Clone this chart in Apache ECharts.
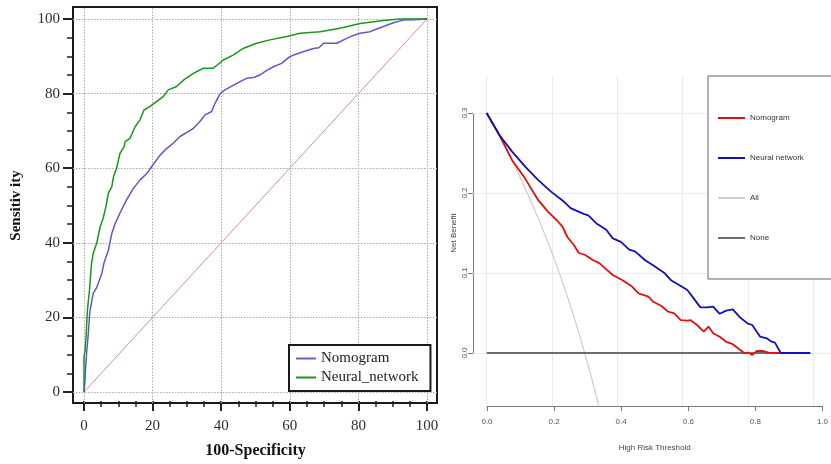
<!DOCTYPE html>
<html>
<head>
<meta charset="utf-8">
<script src="https://cdn.jsdelivr.net/npm/echarts@6/dist/echarts.min.js"></script>
<style>
html,body{margin:0;padding:0;background:#fff;}
#chart{width:831px;height:464px;}
</style>
</head>
<body>
<div id="chart"></div>
<script>
// ---------- ROC data (100-Specificity, Sensitivity) ----------
const rocTicks = [0, 20, 40, 60, 80, 100];
const nomogramRoc = [
  [0,0],[0.3,3],[0.5,7],[0.8,11],[1.2,15],[1.7,21.5],[2.2,24],[2.7,26.5],[3.7,28],[4.5,30],[5.2,31.8],[5.8,34.5],
  [7.1,38],[8.1,42.5],[9,45],[10.5,48],[12.4,51.5],[14.4,54.6],[16.3,56.8],[18.3,58.6],[19.7,60.4],
  [22.2,63.5],[24,65.2],[26,66.7],[28,68.5],[30,69.6],[31.9,70.7],[33.8,72.5],[35.3,74.3],[37.2,75.2],[38.2,77.4],
  [39.7,80],[41.1,81],[43.5,82.2],[45.5,83.2],[47.4,84.1],[49.5,84.3],[51.3,85],[53.3,86.2],[55.2,87.2],[57.6,88.1],
  [60,89.9],[62,90.6],[63.9,91.2],[66.9,92.1],[68.5,92.3],[69.8,93.5],[73.7,93.5],[76.6,94.8],[78.5,95.6],[80.5,96.2],
  [83.4,96.6],[85.5,97.4],[87.3,98],[90.2,99],[93.1,99.7],[96,99.8],[100,100]
];
const neuralRoc = [
  [0,0],[0,9.4],[0.3,11],[0.6,14.8],[1,22],[1.6,27.3],[2.2,34.5],[2.7,37.2],[3.7,39.9],[4.3,42.5],[4.7,44.3],
  [5.6,46.6],[6.4,49.7],[7.1,53.3],[8.1,55],[8.6,57.7],[9.5,60],[10.5,64],[11.7,65.8],[12,67.1],[13.4,68],
  [14.9,71.1],[16.3,72.9],[17.5,75.6],[19.2,76.5],[21.2,77.9],[23.1,79.2],[24.6,81],[27,81.9],[29,83.6],
  [31.9,85.4],[34.8,86.8],[37.7,86.8],[40.6,89],[43.5,90.3],[46.4,92.1],[50.3,93.5],[54.2,94.4],[59.1,95.3],
  [63,96.2],[68.8,96.6],[74.6,97.5],[80.5,98.8],[87.3,99.6],[92.1,100],[100,100]
];
const referenceRoc = [[0,0],[100,100]];

// ---------- DCA data (High Risk Threshold, Net Benefit) ----------
const dcaXTicks = [0, 0.2, 0.4, 0.6, 0.8, 1.0];
const dcaYTicks = [0, 0.1, 0.2, 0.3];
const nomogramDca = [
  [0,0.3],[0.039,0.2725],[0.078,0.241],[0.118,0.218],[0.158,0.191],[0.1875,0.1767],[0.217,0.165],[0.232,0.158],
  [0.247,0.145],[0.267,0.135],[0.282,0.125],[0.3016,0.1225],[0.326,0.116],[0.346,0.112],[0.366,0.1046],
  [0.386,0.0975],[0.4157,0.091],[0.445,0.083],[0.465,0.0746],[0.495,0.0704],[0.51,0.064],[0.535,0.0588],
  [0.555,0.0517],[0.574,0.0496],[0.594,0.041],[0.614,0.0404],[0.624,0.041],[0.644,0.035],[0.664,0.0267],
  [0.679,0.033],[0.693,0.0246],[0.713,0.0204],[0.733,0.014],[0.753,0.011],[0.773,0.0046],[0.788,0],
  [0.8025,0.0004],[0.8125,-0.0025],[0.827,0.0025],[0.847,0.0025],[0.862,0.0004],[0.9,0]
];
const neuralDca = [
  [0,0.3],[0.039,0.2725],[0.078,0.2517],[0.118,0.233],[0.158,0.216],[0.197,0.2017],[0.237,0.189],[0.257,0.181],
  [0.297,0.174],[0.311,0.172],[0.336,0.162],[0.366,0.154],[0.386,0.1433],[0.411,0.139],[0.435,0.1296],
  [0.455,0.1267],[0.485,0.116],[0.515,0.108],[0.545,0.0996],[0.564,0.091],[0.589,0.085],[0.614,0.0788],
  [0.634,0.068],[0.654,0.057],[0.674,0.057],[0.693,0.058],[0.713,0.049],[0.733,0.053],[0.753,0.0546],
  [0.773,0.0454],[0.798,0.037],[0.8125,0.035],[0.837,0.0204],[0.857,0.0183],[0.872,0.0142],[0.882,0.013],
  [0.9,0],[0.99,0]
];
const allDca = [
  [0,0.3],[0.05,0.263],[0.1,0.222],[0.15,0.176],[0.2,0.125],[0.25,0.067],[0.3,0.0],[0.345,-0.069]
];
const noneDca = [[0,0],[0.99,0]];

// ---------- layout (pixels) ----------
const L = {frameL:73, frameT:7, frameR:437, frameB:403, x0:84, x100:427, y0:392, y100:19};
const xppu = (L.x100 - L.x0) / 100, yppu = (L.y0 - L.y100) / 100;
const R = {x0:487, x1:823, y0:353, y3:113, plotL:473, plotT:75, plotR:841, plotB:406};
const rx = (R.x1 - R.x0), ry = (R.y0 - R.y3) / 0.3;

const serif = '"Liberation Serif","DejaVu Serif",serif';
const narrow = '"Liberation Sans Narrow","Liberation Sans",Arial,sans-serif';

const chart = echarts.init(document.getElementById('chart'), null, {renderer:'canvas'});

const vLines = (vals) => vals.map(v => ({xAxis: v}));
const hLines = (vals) => vals.map(v => ({yAxis: v}));
const hidden = (gi) => ({gridIndex:gi, type:'value', min:0, max:1, show:false});

const rocTickStyle = {
  axisLine:{show:false}, splitLine:{show:false},
  axisTick:{show:true, length:10, lineStyle:{color:'#222', width:2}},
  minorTick:{show:true, splitNumber:4, length:6, lineStyle:{color:'#222', width:1.5}}
};
const dcaTickStyle = {
  axisLine:{show:true, lineStyle:{color:'#777', width:1}}, splitLine:{show:false},
  axisTick:{show:true, length:5, lineStyle:{color:'#777', width:1}}
};

chart.setOption({
  animation: false,
  backgroundColor: '#fff',
  grid: [
    // 0: ROC frame (plot region)
    {left:L.frameL, top:L.frameT, width:L.frameR-L.frameL, height:L.frameB-L.frameT,
     show:true, borderColor:'#1a1a1a', borderWidth:2, backgroundColor:'transparent'},
    // 1: ROC x axis grid (bottom on frame edge)
    {left:L.x0, top:L.y100, width:L.x100-L.x0, height:L.frameB-L.y100},
    // 2: ROC y axis grid (left on frame edge)
    {left:L.frameL, top:L.y100, width:L.x100-L.frameL, height:L.y0-L.y100},
    // 3: DCA plot region
    {left:R.plotL, top:R.plotT, width:R.plotR-R.plotL, height:R.plotB-R.plotT},
    // 4: DCA x axis grid
    {left:R.x0, top:R.y3, width:R.x1-R.x0, height:R.plotB-R.y3},
    // 5: DCA y axis grid
    {left:R.plotL, top:R.y3, width:R.x1-R.plotL, height:R.y0-R.y3}
  ],
  xAxis: [
    {gridIndex:0, type:'value', min:-(L.x0-L.frameL)/xppu, max:100+(L.frameR-L.x100)/xppu, show:false},
    Object.assign({gridIndex:1, type:'value', min:0, max:100, interval:20, position:'bottom',
     name:'100-Specificity', nameLocation:'middle', nameGap:42,
     nameTextStyle:{fontFamily:serif, fontWeight:'bold', fontSize:16, color:'#111'},
     axisLabel:{margin:18, fontFamily:serif, fontSize:15, color:'#2b2b3b'}}, rocTickStyle),
    hidden(2),
    {gridIndex:3, type:'value', min:-(R.x0-R.plotL)/rx, max:(R.plotR-R.x0)/rx, show:false},
    Object.assign({gridIndex:4, type:'value', min:0, max:1, interval:0.2, position:'bottom',
     name:'High Risk Threshold', nameLocation:'middle', nameGap:38,
     nameTextStyle:{fontFamily:narrow, fontSize:8, color:'#444'},
     axisLabel:{margin:12, fontFamily:narrow, fontSize:8, color:'#555', formatter:(v)=>v.toFixed(1)}}, dcaTickStyle),
    hidden(5)
  ],
  yAxis: [
    {gridIndex:0, type:'value', min:-(L.frameB-L.y0)/yppu, max:100+(L.y100-L.frameT)/yppu, show:false},
    hidden(1),
    Object.assign({gridIndex:2, type:'value', min:0, max:100, interval:20, position:'left',
     name:'Sensitiv ity', nameLocation:'middle', nameGap:49,
     nameTextStyle:{fontFamily:serif, fontWeight:'bold', fontSize:15, color:'#111'},
     axisLabel:{margin:13, fontFamily:serif, fontSize:15, color:'#2b2b3b'}}, rocTickStyle),
    {gridIndex:3, type:'value', min:-(R.plotB-R.y0)/ry, max:(R.y0-R.plotT)/ry, show:false},
    hidden(4),
    Object.assign({gridIndex:5, type:'value', min:0, max:0.3, interval:0.1, position:'left',
     name:'Net Benefit', nameLocation:'middle', nameGap:15,
     nameTextStyle:{fontFamily:narrow, fontSize:8, color:'#444'},
     axisLabel:{margin:4, rotate:90, fontFamily:narrow, fontSize:8, color:'#555', formatter:(v)=>v.toFixed(1)}}, dcaTickStyle)
  ],
  legend: [
    {data:[{name:'Nomogram', itemStyle:{color:'#6464c8'}}, {name:'Neural_network', itemStyle:{color:'#1a961a'}}],
     orient:'vertical', left:289, top:345, padding:[6,12,6,7], itemGap:4, itemWidth:20, itemHeight:2,
     icon:'rect', borderColor:'#1a1a1a', borderWidth:2, backgroundColor:'#fff', selectedMode:false,
     textStyle:{fontFamily:serif, fontSize:15, color:'#222'}},
    {data:[{name:'Nomogram', itemStyle:{color:'#e01010'}}, {name:'Neural network', itemStyle:{color:'#1010c0'}},
           {name:'All', itemStyle:{color:'#cccccc'}}, {name:'None', itemStyle:{color:'#6e6e6e'}}],
     orient:'vertical', left:708, top:76, padding:[38,150,37,10], itemGap:32, itemWidth:27, itemHeight:2,
     icon:'rect', borderColor:'#666', borderWidth:1, backgroundColor:'#fff', selectedMode:false,
     textStyle:{fontFamily:narrow, fontSize:8, color:'#333'}}
  ],
  series: [
    // ROC grid lines
    {type:'line', xAxisIndex:0, yAxisIndex:0, data:[], silent:true, z:1,
     markLine:{z:1, silent:true, symbol:['none','none'], label:{show:false}, animation:false,
       lineStyle:{color:'#aaaaaa', type:[1.5,1.5], width:1},
       data: vLines(rocTicks).concat(hLines(rocTicks))}},
    {name:'Reference', type:'line', xAxisIndex:0, yAxisIndex:0, data:referenceRoc, symbol:'none', z:2,
     lineStyle:{color:'#e08c8c', width:1}},
    {name:'Nomogram', type:'line', xAxisIndex:0, yAxisIndex:0, data:nomogramRoc, symbol:'none', z:3,
     lineStyle:{color:'#5a5ac8', width:1.5}, itemStyle:{color:'#5a5ac8'}},
    {name:'Neural_network', type:'line', xAxisIndex:0, yAxisIndex:0, data:neuralRoc, symbol:'none', z:4,
     lineStyle:{color:'#1a961a', width:1.5}, itemStyle:{color:'#1a961a'}},
    // DCA grid lines
    {type:'line', xAxisIndex:3, yAxisIndex:3, data:[], silent:true, z:1,
     markLine:{z:1, silent:true, symbol:['none','none'], label:{show:false}, animation:false,
       lineStyle:{color:'#ececec', type:'solid', width:1},
       data: vLines(dcaXTicks).concat(hLines(dcaYTicks))}},
    {name:'All', type:'line', xAxisIndex:3, yAxisIndex:3, data:allDca, symbol:'none', z:2, smooth:true,
     lineStyle:{color:'#cccccc', width:1.2}, itemStyle:{color:'#cccccc'}},
    {name:'None', type:'line', xAxisIndex:3, yAxisIndex:3, data:noneDca, symbol:'none', z:3,
     lineStyle:{color:'#6e6e6e', width:2}, itemStyle:{color:'#6e6e6e'}},
    {name:'Nomogram', type:'line', xAxisIndex:3, yAxisIndex:3, data:nomogramDca, symbol:'none', z:4,
     lineStyle:{color:'#e01010', width:1.8}, itemStyle:{color:'#e01010'}},
    {name:'Neural network', type:'line', xAxisIndex:3, yAxisIndex:3, data:neuralDca, symbol:'none', z:5,
     lineStyle:{color:'#1010c0', width:1.8}, itemStyle:{color:'#1010c0'}}
  ]
});
</script>
</body>
</html>
